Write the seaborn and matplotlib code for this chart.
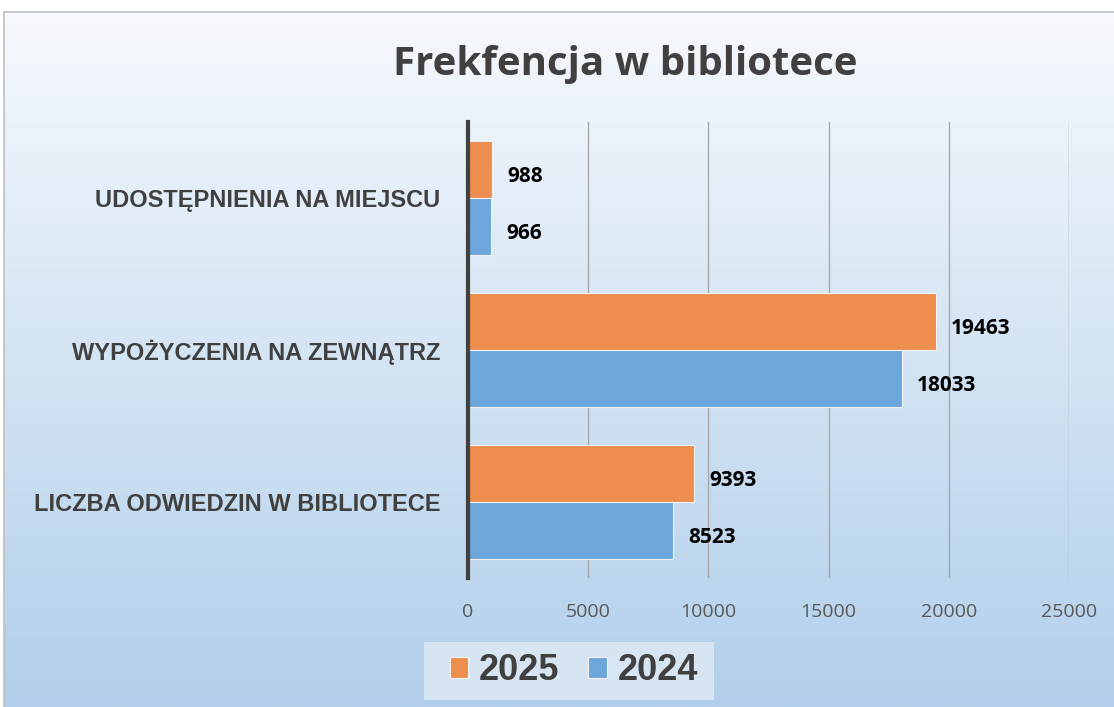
import matplotlib
matplotlib.use('Agg')
import matplotlib.pyplot as plt
from matplotlib.colors import LinearSegmentedColormap
from matplotlib import patches
import seaborn as sns
import numpy as np
import pandas as pd

categories = ['UDOSTĘPNIENIA NA MIEJSCU', 'WYPOŻYCZENIA NA ZEWNĄTRZ', 'LICZBA ODWIEDZIN W BIBLIOTECE']
years = ['2025', '2024']
values_2025 = [988, 19463, 9393]
values_2024 = [966, 18033, 8523]
x_ticks = [0, 5000, 10000, 15000, 20000, 25000]

df = pd.DataFrame({
    'kategoria': categories * 2,
    'rok': [years[0]] * 3 + [years[1]] * 3,
    'wartosc': values_2025 + values_2024,
})

W, H = 1114, 707
fig = plt.figure(figsize=(W / 100, H / 100), dpi=100)
fig.patch.set_facecolor('white')

# gradient background with thin gray frame
bg = fig.add_axes([4 / W, 0, 1 - 4 / W, 1 - 12 / H], zorder=-10)
grad_cmap = LinearSegmentedColormap.from_list('bg', ['#f6f9fd', '#b1cfea'])
bg.imshow(np.linspace(0, 1, 256).reshape(-1, 1), aspect='auto', cmap=grad_cmap,
          extent=[0, 1, 0, 1], origin='upper')
bg.set_xticks([])
bg.set_yticks([])
for side in ['right', 'bottom']:
    bg.spines[side].set_visible(False)
for side in ['left', 'top']:
    bg.spines[side].set_color('#bfbfbf')
    bg.spines[side].set_linewidth(1.2)

# legend background box
fig.patches.append(patches.Rectangle((424 / W, 1 - 700 / H), 290 / W, 58 / H,
                                     transform=fig.transFigure, facecolor='#d7e5f2',
                                     edgecolor='none', zorder=-5))

ax = fig.add_axes([468 / W, 1 - 578 / H, (1069 - 468) / W, (578 - 122) / H])
ax.set_facecolor('none')

sns.barplot(data=df, y='kategoria', x='wartosc', hue='rok', hue_order=years,
            order=categories, orient='h', width=0.75, saturation=1,
            palette={'2025': '#ee8e4e', '2024': '#6ca6da'},
            edgecolor='#f3f3f3', linewidth=0.8, ax=ax, zorder=3)

ax.set_xlim(0, 25000)
ax.set_xticks(x_ticks)
ax.set_xticklabels([str(t) for t in x_ticks], family='Open Sans', fontsize=14, color='#595959')
ax.tick_params(axis='x', length=0, pad=18)
ax.tick_params(axis='y', length=0, pad=20)
for lbl in ax.get_yticklabels():
    lbl.set_family('Liberation Sans')
    lbl.set_fontweight('bold')
    lbl.set_fontsize(17)
    lbl.set_color('#404040')
ax.set_xlabel('')
ax.set_ylabel('')
ax.grid(axis='x', color='#a8a8a8', linewidth=1, zorder=0)
ax.grid(axis='y', visible=False)
for side in ['top', 'right', 'bottom']:
    ax.spines[side].set_visible(False)
ax.spines['left'].set_color('#404040')
ax.spines['left'].set_linewidth(3)
ax.spines['left'].set_zorder(5)

# value labels
for cont in ax.containers:
    for p in cont:
        w = p.get_width()
        ax.annotate(f'{w:.0f}', (w, p.get_y() + p.get_height() / 2),
                    xytext=(11, -5), textcoords='offset points',
                    ha='left', va='center', family='Open Sans', fontweight='bold',
                    fontsize=15, color='black')

handles, labels = ax.get_legend_handles_labels()
ax.get_legend().remove()
leg = fig.legend(handles, labels, loc='center', bbox_to_anchor=(574 / W, 1 - 671 / H),
                 ncol=2, frameon=False, handlelength=0.5, handleheight=0.5,
                 handletextpad=0.3, columnspacing=0.8, borderpad=0, borderaxespad=0,
                 prop={'family': 'Liberation Sans', 'weight': 'bold', 'size': 26})
for t in leg.get_texts():
    t.set_color('#404040')

fig.text(625 / W, 1 - 65 / H, 'Frekfencja w bibliotece', ha='center', va='center',
         family='Open Sans', fontweight='bold', fontsize=29, color='#404040')

fig.savefig('out.png', dpi=100)
